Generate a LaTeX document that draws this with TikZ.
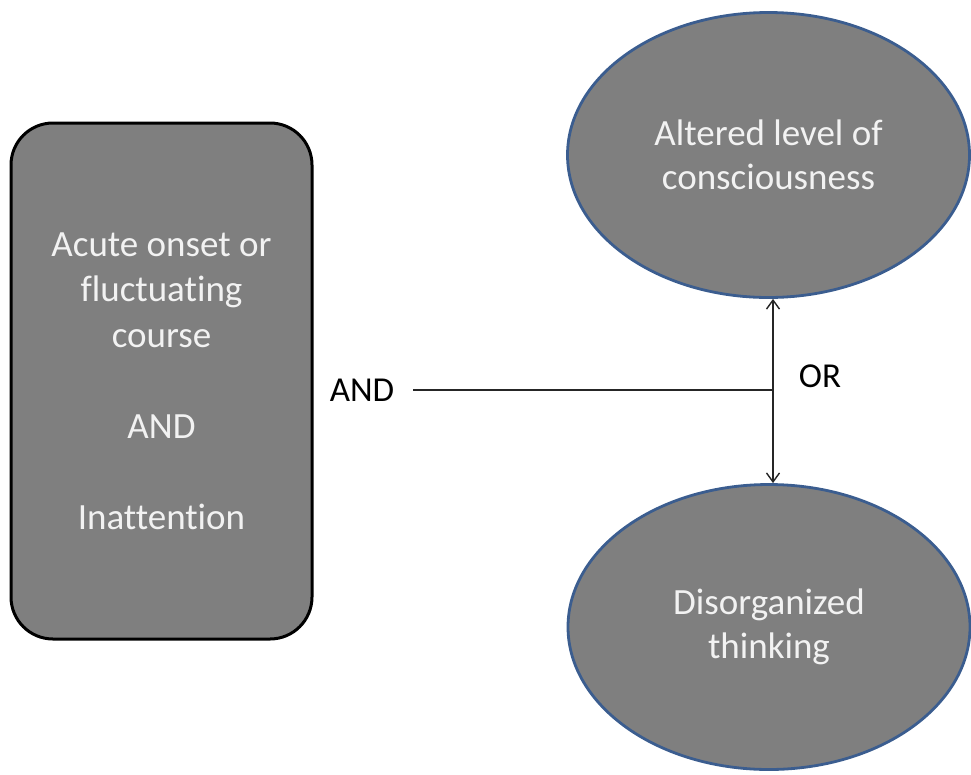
\documentclass[tikz,border=0pt]{standalone}
\usepackage{fontspec}
\setmainfont[Ligatures=CommonOff]{Carlito}
\usetikzlibrary{shapes.geometric,arrows.meta}
\definecolor{boxgray}{HTML}{7F7F7F}
\definecolor{rimblue}{HTML}{3B5D8F}
\definecolor{textwhite}{HTML}{F2F2F2}
\tikzset{
  x=1pt, y=-1pt,
  criterion/.style={draw=black, line width=3pt, fill=boxgray, rounded corners=42pt,
    minimum width=301pt, minimum height=516pt, inner sep=0pt,
    text=textwhite, align=center, font=\fontsize{37}{45.5}\selectfont},
  feature/.style={ellipse, draw=rimblue, line width=2.8pt, fill=boxgray,
    minimum width=402pt, minimum height=285pt, inner sep=0pt,
    text=textwhite, align=center, font=\fontsize{37}{44}\selectfont},
  logic/.style={font=\fontsize{35}{40}\selectfont, text=black, inner sep=0pt},
  link/.style={line width=1.4pt, draw=black!85},
  tip/.style={-{Straight Barb[length=9pt,width=13pt]}}
}
\begin{document}
\begin{tikzpicture}
\useasboundingbox (0,0) rectangle (971,774);
% left criterion block
\node[criterion] (crit) at (161.5,381)
  {Acute onset or\\fluctuating\\course\\[45.5pt]AND\\[45.5pt]Inattention};
% the two alternative features
\node[feature] (alt) at (768.5,155) {Altered level of\\consciousness};
\node[feature] (dis) at (769,627) {Disorganized\\thinking};
% connector labels
\node[logic] (andlbl) at (362,390) {AND};
\node[logic] (orlbl) at (820,376) {OR};
% junction and connectors
\coordinate (joint) at (773,390);
\coordinate (start) at (413,390);
\draw[link] (start) -- (joint);
\draw[link, tip] (joint) -- (alt.south -| joint);
\draw[link, tip] (joint) -- (dis.north -| joint);
\end{tikzpicture}
\end{document}
